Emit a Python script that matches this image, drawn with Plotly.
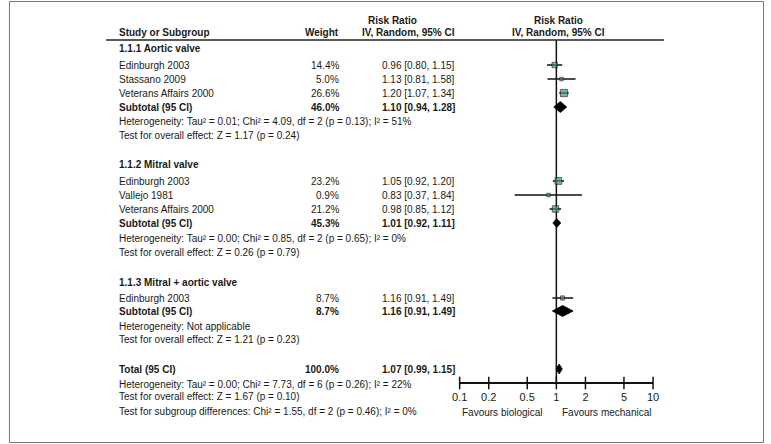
import plotly.graph_objects as go
import math

W, H = 771, 444

# ---------------- data ----------------
groups = ["1.1.1 Aortic valve", "1.1.2 Mitral valve", "1.1.3 Mitral + aortic valve"]
study_names = ["Edinburgh 2003", "Stassano 2009", "Veterans Affairs 2000",
               "Edinburgh 2003", "Vallejo 1981", "Veterans Affairs 2000",
               "Edinburgh 2003"]
study_group = [0, 0, 0, 1, 1, 1, 2]
study_weight = [14.4, 5.0, 26.6, 23.2, 0.9, 21.2, 8.7]
study_rr = [0.96, 1.13, 1.20, 1.05, 0.83, 0.98, 1.16]
study_lo = [0.80, 0.81, 1.07, 0.92, 0.37, 0.85, 0.91]
study_hi = [1.15, 1.58, 1.34, 1.20, 1.84, 1.12, 1.49]

sub_weight = [46.0, 45.3, 8.7]
sub_rr = [1.10, 1.01, 1.16]
sub_lo = [0.94, 0.92, 0.91]
sub_hi = [1.28, 1.11, 1.49]
sub_het = ["Heterogeneity: Tau² = 0.01; Chi² = 4.09, df = 2 (p = 0.13); I² = 51%",
           "Heterogeneity: Tau² = 0.00; Chi² = 0.85, df = 2 (p = 0.65); I² = 0%",
           "Heterogeneity: Not applicable"]
sub_test = ["Test for overall effect: Z = 1.17 (p = 0.24)",
            "Test for overall effect: Z = 0.26 (p = 0.79)",
            "Test for overall effect: Z = 1.21 (p = 0.23)"]

total_weight = 100.0
total_rr, total_lo, total_hi = 1.07, 0.99, 1.15
total_het = "Heterogeneity: Tau² = 0.00; Chi² = 7.73, df = 6 (p = 0.26); I² = 22%"
total_test = "Test for overall effect: Z = 1.67 (p = 0.10)"
subgroup_test = "Test for subgroup differences: Chi² = 1.55, df = 2 (p = 0.46); I² = 0%"

tick_vals = [0.1, 0.2, 0.5, 1, 2, 5, 10]
tick_labels = ["0.1", "0.2", "0.5", "1", "2", "5", "10"]
favours = ["Favours biological", "Favours mechanical"]

# ---------------- layout (pixel rows / columns) ----------------
group_title_y = [48, 164, 282]
study_y = [65, 79, 93, 181, 195, 209, 298]
sub_y = [107, 223, 311]
het_y = [121, 238, 326]
test_y = [135, 252, 339]
total_y, total_het_y, total_test_y, subgroup_y = 369, 384, 396, 411
axis_y = 383
header_line_y = 40

x_study, x_weight, x_ci = 111, 339, 457
plot_left, plot_right = 460, 657
sub_half_h = [5.5, 4.5, 5.5]
total_half_h = 5

FONT = "Liberation Sans, Arial, sans-serif"
TXT = "#1a1a1a"
GREEN = "#3a9b78"

fig = go.Figure()

# CI lines
cx, cy = [], []
for lo, hi, y in zip(study_lo, study_hi, study_y):
    cx += [lo, hi, None]
    cy += [y, y, None]
fig.add_trace(go.Scatter(x=cx, y=cy, mode="lines",
                         line=dict(color="#111", width=1.3), hoverinfo="skip"))

# squares
sizes = [max(3.5, 1.4 * math.sqrt(w)) for w in study_weight]
fig.add_trace(go.Scatter(x=study_rr, y=study_y, mode="markers",
                         marker=dict(symbol="square", size=sizes, color=GREEN,
                                     line=dict(color="#222", width=1))))

# diamonds
def diamond(rr, lo, hi, y, h):
    fig.add_trace(go.Scatter(x=[lo, rr, hi, rr, lo], y=[y, y - h, y, y + h, y],
                             mode="lines", fill="toself", fillcolor="#000",
                             line=dict(color="#000", width=0.8), hoverinfo="skip"))

for rr, lo, hi, y, h in zip(sub_rr, sub_lo, sub_hi, sub_y, sub_half_h):
    diamond(rr, lo, hi, y, h)
diamond(total_rr, total_lo, total_hi, total_y, total_half_h)

# crossing tick marks
fig.add_trace(go.Scatter(x=tick_vals, y=[axis_y] * len(tick_vals), mode="markers",
                         marker=dict(symbol="line-ns", size=9,
                                     line=dict(color="#111", width=1.5)),
                         hoverinfo="skip", cliponaxis=False))

ann = []
def txt(x, y, s, anchor="left", bold=False, size=10, xref="paper"):
    if bold:
        s = "<b>" + s + "</b>"
    xv = (x / W) if xref == "paper" else math.log10(x)  # log axis annotations use log10
    ann.append(dict(x=xv, y=y, xref=xref, yref="y",
                    text=s, showarrow=False, xanchor=anchor, yanchor="middle",
                    font=dict(family=FONT, size=size, color=TXT)))

# headers
txt(392, 20, "Risk Ratio", "center", True)
txt(x_study, 32, "Study or Subgroup", "left", True)
txt(x_weight, 32, "Weight", "right", True)
txt(x_ci, 32, "IV, Random, 95% CI", "right", True)
txt(561, 20, "Risk Ratio", "center", True)
txt(561, 32, "IV, Random, 95% CI", "center", True)

def ci_str(rr, lo, hi):
    return f"{rr:.2f} [{lo:.2f}, {hi:.2f}]"

for g, name in enumerate(groups):
    txt(x_study, group_title_y[g], name, "left", True)
    for i in range(len(study_names)):
        if study_group[i] == g:
            txt(x_study, study_y[i], study_names[i])
            txt(x_weight, study_y[i], f"{study_weight[i]:.1f}%", "right")
            txt(x_ci, study_y[i], ci_str(study_rr[i], study_lo[i], study_hi[i]), "right")
    txt(x_study, sub_y[g], "Subtotal (95 CI)", "left", True)
    txt(x_weight, sub_y[g], f"{sub_weight[g]:.1f}%", "right", True)
    txt(x_ci, sub_y[g], ci_str(sub_rr[g], sub_lo[g], sub_hi[g]), "right", True)
    txt(x_study, het_y[g], sub_het[g])
    txt(x_study, test_y[g], sub_test[g])

txt(x_study, total_y, "Total (95 CI)", "left", True)
txt(x_weight, total_y, f"{total_weight:.1f}%", "right", True)
txt(x_ci, total_y, ci_str(total_rr, total_lo, total_hi), "right", True)
txt(x_study, total_het_y, total_het)
txt(x_study, total_test_y, total_test)
txt(x_study, subgroup_y, subgroup_test)

# favours labels tied to the axis ends
txt(tick_vals[0], 412, favours[0], "left", xref="x")
txt(tick_vals[-1], 412, favours[1], "right", xref="x")

fig.update_layout(
    width=W, height=H, autosize=False,
    margin=dict(l=0, r=0, t=0, b=0),
    paper_bgcolor="white", plot_bgcolor="white",
    showlegend=False,
    annotations=ann,
    xaxis=dict(type="log", range=[-1, 1], domain=[plot_left / W, plot_right / W],
               anchor="free", position=(H - axis_y) / H,
               showline=True, linecolor="#111", linewidth=1.5,
               showgrid=False, zeroline=False,
               ticks="", tickvals=tick_vals, ticktext=tick_labels,
               ticklabelstandoff=4,
               tickfont=dict(family=FONT, size=11, color=TXT),
               fixedrange=True),
    yaxis=dict(range=[H, 0], domain=[0, 1], visible=False, fixedrange=True),
    shapes=[
        dict(type="line", xref="paper", yref="y", x0=100 / W, x1=668 / W,
             y0=header_line_y, y1=header_line_y, line=dict(color="#222", width=1.5)),
        dict(type="line", xref="x", yref="y", x0=1, x1=1, y0=header_line_y, y1=axis_y,
             line=dict(color="#111", width=1.5), layer="below"),
        dict(type="rect", xref="paper", yref="paper", x0=1.5 / W, x1=(W - 1.5) / W,
             y0=1.5 / H, y1=(H - 1.5) / H, line=dict(color="#777", width=1)),
    ],
)

fig.write_html(
    "out.html",
    config={"displayModeBar": False},
    post_script=("document.documentElement.style.overflow='hidden';"
                 "document.body.style.margin='0';"
                 "document.body.style.overflow='hidden';"),
)
